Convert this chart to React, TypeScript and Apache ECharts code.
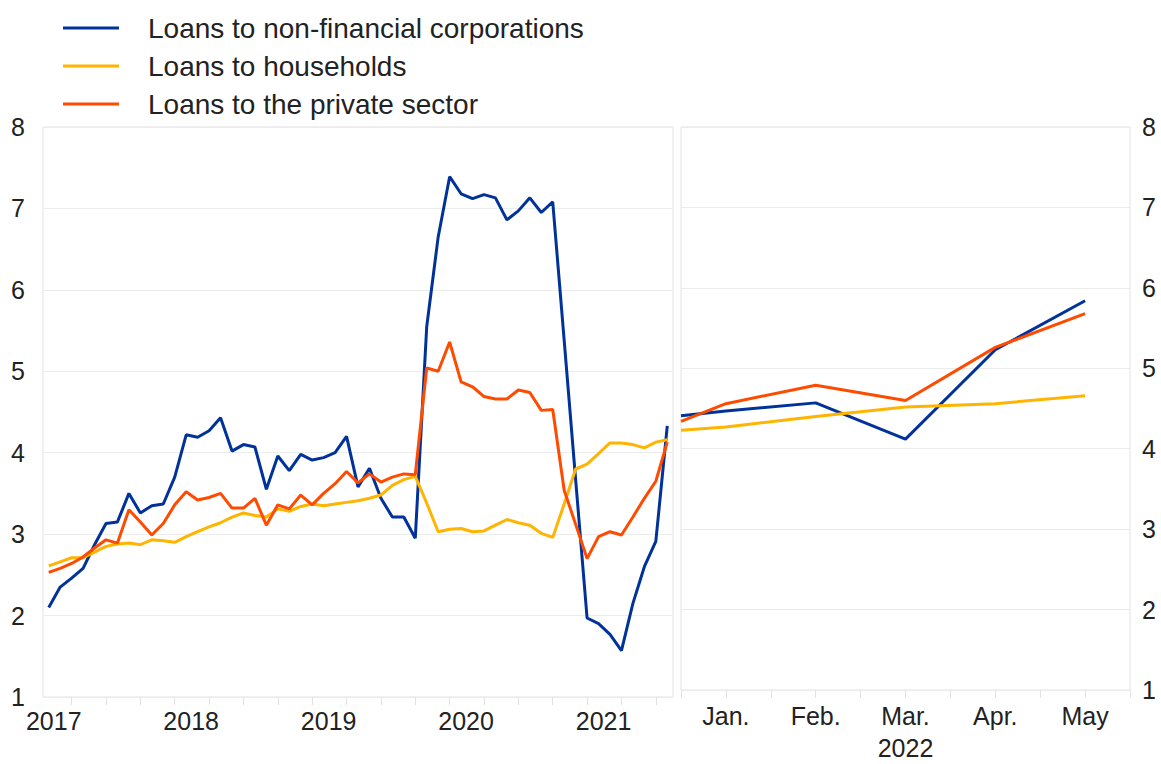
import React, { useEffect, useRef } from 'react';
import * as echarts from 'echarts';

const BLUE = '#003299';
const YELLOW = '#FFB400';
const ORANGE = '#FF4B00';

const seriesNames = [
  'Loans to non-financial corporations',
  'Loans to households',
  'Loans to the private sector',
];

// Left panel: monthly, Jan 2017 - Jul 2021
const years = [2017, 2018, 2019, 2020, 2021];
const monthsLeft: string[] = [];
for (const y of years) {
  for (let m = 1; m <= 12; m++) monthsLeft.push(`${y}-${String(m).padStart(2, '0')}`);
}
monthsLeft.length = 55;

const nfcLeft = [
  2.10, 2.35, 2.46, 2.58, 2.87, 3.13, 3.15, 3.50, 3.26, 3.35, 3.37, 3.70,
  4.22, 4.19, 4.27, 4.43, 4.02, 4.10, 4.07, 3.55, 3.96, 3.78, 3.98, 3.91,
  3.94, 4.00, 4.20, 3.58, 3.81, 3.44, 3.21, 3.21, 2.95, 5.55, 6.65, 7.39,
  7.18, 7.12, 7.17, 7.13, 6.86, 6.97, 7.13, 6.95, 7.08, 5.38, 3.67, 1.97,
  1.90, 1.77, 1.57, 2.15, 2.60, 2.91, 4.33,
];
const hhLeft = [
  2.61, 2.66, 2.71, 2.71, 2.78, 2.85, 2.88, 2.89, 2.87, 2.93, 2.92, 2.90,
  2.97, 3.03, 3.09, 3.14, 3.21, 3.26, 3.23, 3.21, 3.31, 3.28, 3.34, 3.37,
  3.35, 3.37, 3.39, 3.41, 3.44, 3.48, 3.60, 3.67, 3.71, 3.38, 3.03, 3.06,
  3.07, 3.03, 3.04, 3.11, 3.18, 3.14, 3.11, 3.01, 2.96, 3.37, 3.80, 3.86,
  3.99, 4.12, 4.12, 4.10, 4.06, 4.13, 4.16,
];
const pvtLeft = [
  2.53, 2.58, 2.64, 2.72, 2.83, 2.93, 2.89, 3.30, 3.15, 2.99, 3.13, 3.36,
  3.52, 3.42, 3.45, 3.50, 3.32, 3.32, 3.44, 3.11, 3.36, 3.31, 3.48, 3.36,
  3.50, 3.62, 3.77, 3.63, 3.74, 3.64, 3.70, 3.74, 3.73, 5.04, 5.00, 5.36,
  4.87, 4.81, 4.69, 4.66, 4.66, 4.77, 4.74, 4.52, 4.53, 3.54, 3.12, 2.70,
  2.97, 3.03, 2.99, 3.21, 3.44, 3.65, 4.13,
];

// Right panel: 2022, month positions (Jan = 0), starting at the panel edge
const rightX = [-0.5, 0, 1, 2, 3, 4];
const rightMonthLabels = ['Jan.', 'Feb.', 'Mar.', 'Apr.', 'May'];
const rightYearLabel = '2022';
const nfcRight = [4.41, 4.47, 4.57, 4.12, 5.23, 5.84];
const hhRight = [4.23, 4.27, 4.40, 4.52, 4.56, 4.66];
const pvtRight = [4.34, 4.56, 4.79, 4.60, 5.26, 5.68];

const yTicks = { min: 1, max: 8, interval: 1 };

const FONT = '"Liberation Sans", Arial, Helvetica, sans-serif';
const TEXT = '#222222';
const GRIDLINE = '#ececec';
const BORDER = '#e2e2e2';

export default function App() {
  const ref = useRef<HTMLDivElement>(null);
  useEffect(() => {
    if (!ref.current) return;
    const chart = echarts.init(ref.current, undefined, { renderer: 'svg' });
    const pair = (ys: number[]) => rightX.map((x, i) => [x, ys[i]]);
    const lineSeries = (name: string, color: string, data: any, gi: number) => ({
      name,
      type: 'line',
      xAxisIndex: gi,
      yAxisIndex: gi,
      data,
      showSymbol: false,
      symbol: 'none',
      color,
      lineStyle: { color, width: 3 },
    });
    chart.setOption({
      animation: false,
      textStyle: { fontFamily: FONT },
      legend: {
        orient: 'vertical',
        left: 58,
        top: 9,
        itemWidth: 56,
        itemHeight: 3,
        itemGap: 10,
        icon: 'rect',
        selectedMode: false,
        data: seriesNames,
        textStyle: { fontSize: 28, color: TEXT, fontFamily: FONT, padding: [0, 0, 0, 24] },
      },
      grid: [
        { left: 43, top: 127, width: 630, height: 570, show: true, borderColor: BORDER, borderWidth: 1 },
        { left: 681, top: 127, width: 449, height: 570, show: true, borderColor: BORDER, borderWidth: 1 },
      ],
      xAxis: [
        {
          type: 'category',
          gridIndex: 0,
          data: monthsLeft,
          boundaryGap: true,
          axisLine: { show: false },
          axisTick: {
            show: true,
            alignWithLabel: true,
            interval: (i: number) => i % 3 === 2,
            length: 8,
            lineStyle: { color: BORDER },
          },
          axisLabel: {
            interval: (i: number) => i % 12 === 0,
            formatter: (v: string) => `{y|${v.slice(0, 4)}}`,
            rich: {
              y: { fontSize: 25, color: TEXT, fontFamily: FONT, padding: [0, 0, 0, 10] },
            },
            fontSize: 25,
            color: TEXT,
            margin: 11,
            fontFamily: FONT,
          },
          splitLine: { show: false },
        },
        {
          type: 'value',
          gridIndex: 1,
          min: -0.5,
          max: 4.5,
          interval: 0.5,
          axisLine: { show: false },
          axisTick: { show: true, length: 8, lineStyle: { color: BORDER } },
          axisLabel: {
            fontSize: 25,
            lineHeight: 32,
            color: TEXT,
            margin: 10,
            fontFamily: FONT,
            showMinLabel: true,
            showMaxLabel: true,
            formatter: (v: number) => {
              const r = Math.round(v);
              if (Math.abs(v - r) > 1e-6 || r < 0 || r >= rightMonthLabels.length) return '';
              return r === 2 ? `${rightMonthLabels[r]}\n${rightYearLabel}` : rightMonthLabels[r];
            },
          },
          splitLine: { show: false },
        },
      ],
      yAxis: [
        {
          type: 'value',
          gridIndex: 0,
          position: 'left',
          ...yTicks,
          axisLine: { show: false },
          axisTick: { show: false },
          axisLabel: { fontSize: 25, color: TEXT, margin: 18, fontFamily: FONT },
          splitLine: { show: true, lineStyle: { color: GRIDLINE, width: 1 } },
        },
        {
          type: 'value',
          gridIndex: 1,
          position: 'right',
          ...yTicks,
          axisLine: { show: false },
          axisTick: { show: false },
          axisLabel: { fontSize: 25, color: TEXT, margin: 12, fontFamily: FONT },
          splitLine: { show: true, lineStyle: { color: GRIDLINE, width: 1 } },
        },
      ],
      series: [
        lineSeries(seriesNames[0], BLUE, nfcLeft, 0),
        lineSeries(seriesNames[1], YELLOW, hhLeft, 0),
        lineSeries(seriesNames[2], ORANGE, pvtLeft, 0),
        lineSeries(seriesNames[0], BLUE, pair(nfcRight), 1),
        lineSeries(seriesNames[1], YELLOW, pair(hhRight), 1),
        lineSeries(seriesNames[2], ORANGE, pair(pvtRight), 1),
      ],
    });
    return () => chart.dispose();
  }, []);
  return (
    <div
      ref={ref}
      style={{ position: 'fixed', left: 0, top: 0, width: 1161, height: 764, background: '#fff' }}
    />
  );
}
